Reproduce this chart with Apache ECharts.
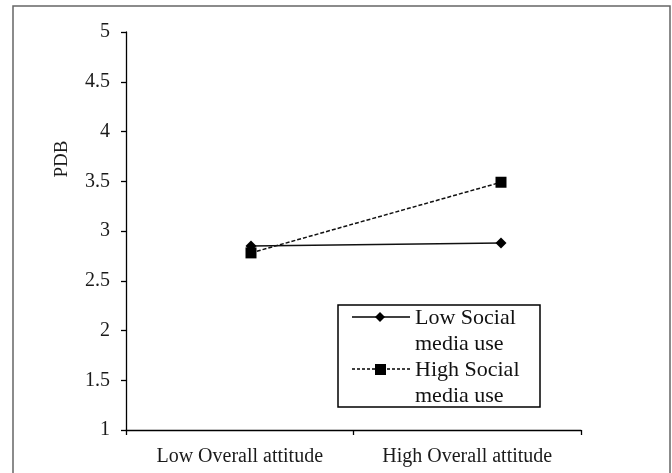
<!DOCTYPE html>
<html>
<head>
<meta charset="utf-8">
<script src="https://cdn.jsdelivr.net/npm/echarts@6/dist/echarts.min.js"></script>
<style>
html,body{margin:0;padding:0;background:#fff;}
#c{width:672px;height:473px;}
</style>
</head>
<body>
<div id="c"></div>
<script>
var categories = ['Low Overall attitude', 'High Overall attitude'];
var lowSocial = [2.85, 2.88];
var highSocial = [2.78, 3.49];
var yTicks = [1, 1.5, 2, 2.5, 3, 3.5, 4, 4.5, 5];
var seriesNames = ['Low Social\nmedia use', 'High Social\nmedia use'];
var yName = 'PDB';

var serif = '"Liberation Serif", "DejaVu Serif", serif';
var chart = echarts.init(document.getElementById('c'));
var option = {
  backgroundColor: '#fff',
  animation: false,
  grid: [
    {left: 126, right: 91, top: 32, bottom: 43},
    {left: 126, width: 500, top: 32, bottom: 43}
  ],
  xAxis: [
    {
      type: 'category', gridIndex: 0, data: categories, boundaryGap: true,
      axisLine: {lineStyle: {color: '#000', width: 1.3}},
      axisTick: {show: true, length: 5, lineStyle: {color: '#000', width: 1.3}},
      axisLabel: {margin: 17, color: '#1a1a1a', fontFamily: serif, fontSize: 20},
      splitLine: {show: false}
    },
    {
      type: 'category', gridIndex: 1, data: categories, boundaryGap: true, show: false
    }
  ],
  yAxis: [
    {
      type: 'value', gridIndex: 0, min: yTicks[0], max: yTicks[yTicks.length - 1], interval: 0.5,
      axisLine: {show: true, lineStyle: {color: '#000', width: 1.3}},
      axisTick: {show: true, length: 5, lineStyle: {color: '#000', width: 1.3}},
      axisLabel: {margin: 16, color: '#1a1a1a', fontFamily: serif, fontSize: 20},
      splitLine: {show: false}
    },
    {
      type: 'value', gridIndex: 1, min: yTicks[0], max: yTicks[yTicks.length - 1], show: false
    }
  ],
  series: [
    {
      name: seriesNames[0], type: 'line', xAxisIndex: 1, yAxisIndex: 1, data: lowSocial,
      symbol: 'diamond', symbolSize: 11, showSymbol: true,
      lineStyle: {color: '#111', width: 1.6, type: 'solid'},
      itemStyle: {color: '#000'}
    },
    {
      name: seriesNames[1], type: 'line', xAxisIndex: 1, yAxisIndex: 1, data: highSocial,
      symbol: 'rect', symbolSize: 11, showSymbol: true,
      lineStyle: {color: '#111', width: 1.5, type: [4, 2]},
      itemStyle: {color: '#000'}
    }
  ],
  graphic: [
    {type: 'rect', shape: {x: 13, y: 6, width: 657, height: 480}, style: {fill: 'none', stroke: '#666', lineWidth: 1.5}, silent: true},
    {type: 'text', x: 62, y: 159, rotation: Math.PI / 2, style: {text: yName, font: '19px ' + serif, fill: '#1a1a1a', textAlign: 'center', textVerticalAlign: 'middle'}},
    {type: 'rect', shape: {x: 338, y: 305, width: 202, height: 102}, style: {fill: '#fff', stroke: '#000', lineWidth: 1.5}},
    {type: 'line', shape: {x1: 352, y1: 317, x2: 410, y2: 317}, style: {stroke: '#000', lineWidth: 1.3}},
    {type: 'polygon', shape: {points: [[380, 312], [385, 317], [380, 322], [375, 317]]}, style: {fill: '#000'}},
    {type: 'line', shape: {x1: 352, y1: 369, x2: 410, y2: 369}, style: {stroke: '#000', lineWidth: 1.3, lineDash: [3, 2]}},
    {type: 'rect', shape: {x: 375, y: 364, width: 11, height: 11}, style: {fill: '#000'}},
    {type: 'text', x: 415, y: 305, style: {text: seriesNames[0], font: '22px ' + serif, fill: '#111', lineHeight: 26, textVerticalAlign: 'top'}},
    {type: 'text', x: 415, y: 357, style: {text: seriesNames[1], font: '22px ' + serif, fill: '#111', lineHeight: 26, textVerticalAlign: 'top'}}
  ]
};
chart.setOption(option);
</script>
</body>
</html>
